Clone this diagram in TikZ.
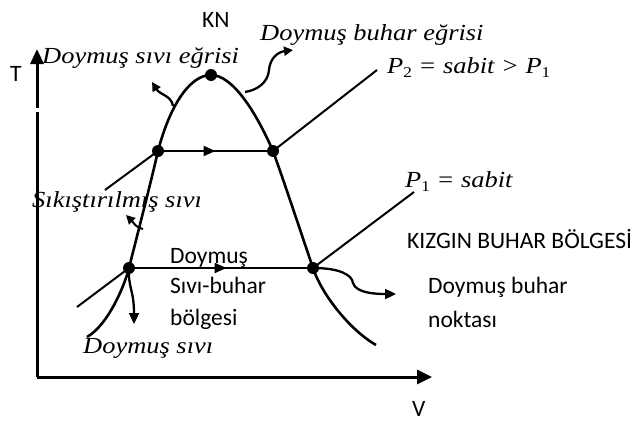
\documentclass[tikz,border=0pt]{standalone}
\usepackage{fontspec}
\setmainfont{Carlito}
\newfontfamily\camb[FakeStretch=1.15]{Liberation Serif}
\usetikzlibrary{arrows.meta,decorations.markings}
\newcommand\subd[1]{\raisebox{-0.4ex}{\fontsize{15}{15}\selectfont\upshape #1}}
\tikzset{
  lbl/.style={font=\fontsize{23.5}{26}\selectfont, inner sep=0pt, anchor=base west},
  ital/.style={font=\camb\itshape\fontsize{23}{26}\selectfont, inner sep=0pt, anchor=base west},
  dot/.style={circle, fill=black, inner sep=0pt, minimum size=12pt},
  axis/.style={line width=3pt},
  curve/.style={line width=2.6pt},
  press/.style={line width=2pt},
  curly/.style={line width=2.3pt, -{Triangle[length=9pt,width=9pt]}},
  midarrow/.style={postaction={decorate}, decoration={markings,
     mark=at position #1 with {\arrow{Triangle[length=12pt,width=10pt]}}}}
}
\begin{document}
\begin{tikzpicture}[x=1pt,y=-1pt]
\useasboundingbox (0,0) rectangle (636,423);
% axes
\coordinate (O) at (37,377);
\coordinate (Ttip) at (37,49);
\coordinate (Vtip) at (432,377);
\coordinate (gapB) at (37,112);
\coordinate (gapT) at (37,108);
\draw[axis] (O) -- (gapB);
\draw[axis, -{Triangle[length=15pt,width=13pt]}] (gapT) -- (Ttip);
\draw[axis, -{Triangle[length=15pt,width=14pt]}] (O) -- (Vtip);
% points
\node[dot] (KN) at (211,75) {};
\node[dot] (A2) at (158,151) {};
\node[dot] (B2) at (273,151) {};
\node[dot] (A1) at (129,268) {};
\node[dot] (B1) at (313,268) {};
\coordinate (L0) at (87,337);
\coordinate (R0) at (376,345);
% dome
\draw[curve] (L0) .. controls (108,325) and (124.5,286) .. (A1.center)
  .. controls (139,228) and (149,190) .. (A2.center)
  .. controls (170,105) and (190,75) .. (KN.center)
  .. controls (232,75) and (255,110) .. (B2.center)
  .. controls (287,190) and (300,230) .. (B1.center)
  .. controls (322,295) and (350,330) .. (R0);
% pressure lines
\coordinate (P2l) at (105,190);
\coordinate (P2r) at (377,70);
\coordinate (P1l) at (77,307);
\coordinate (P1r) at (414,192);
\draw[press] (P2l) -- (A2.center);
\draw[press, midarrow=0.5] (A2.center) -- (B2.center);
\draw[press] (B2.center) -- (P2r);
\draw[press] (P1l) -- (A1.center);
\draw[press, midarrow=0.53] (A1.center) -- (B1.center);
\draw[press] (B1.center) -- (P1r);
% curly arrows
\coordinate (s1) at (173,106);
\coordinate (e1) at (152,82);
\draw[curly] (s1) .. controls (171,95) and (160,95) .. (e1);
\coordinate (s2) at (245,92);
\coordinate (e2) at (293,50);
\draw[curly] (s2) .. controls (258,90) and (268,82) .. (269,70)
  .. controls (270,58) and (278,52) .. (e2);
\coordinate (s3) at (143,229);
\coordinate (e3) at (126,215);
\draw[curly, line width=2pt] (s3) .. controls (136,228) and (133,222) .. (e3);
\coordinate (e4) at (134,324);
\draw[curly, -{Triangle[length=11pt,width=10pt]}] (A1.center) .. controls (128,288) and (134,290) .. (e4);
\coordinate (e5) at (396,294);
\draw[curly, -{Triangle[length=11pt,width=10pt]}] (B1.center) .. controls (340,268) and (352,275) .. (353,283)
  .. controls (356,293) and (375,294) .. (e5);
% labels
\node[lbl] (kn) at (202,27) {KN};
\node[lbl] (T) at (10,81) {T};
\node[lbl] (V) at (412,416) {V};
\node[lbl] (kb) at (407,248) {KIZGIN BUHAR BÖLGESİ};
\node[lbl] (db1) at (428,293) {Doymuş buhar};
\node[lbl] (db2) at (428,327) {noktası};
\node[lbl] (ds1) at (170,263) {Doymuş};
\node[lbl] (ds2) at (170,293) {Sıvı-buhar};
\node[lbl] (ds3) at (170,325) {bölgesi};
\node[ital] (dse) at (42,63) {Doymuş sıvı eğrisi};
\node[ital] (dbe) at (260,40) {Doymuş buhar eğrisi};
\node[ital] (p2) at (387,73) {P\subd{2} = sabit > P\subd{1}};
\node[ital] (p1) at (405,187) {P\subd{1} = sabit};
\node[ital] (sk) at (32,207) {Sıkıştırılmış sıvı};
\node[ital] (dsv) at (83,353) {Doymuş sıvı};
\end{tikzpicture}
\end{document}
